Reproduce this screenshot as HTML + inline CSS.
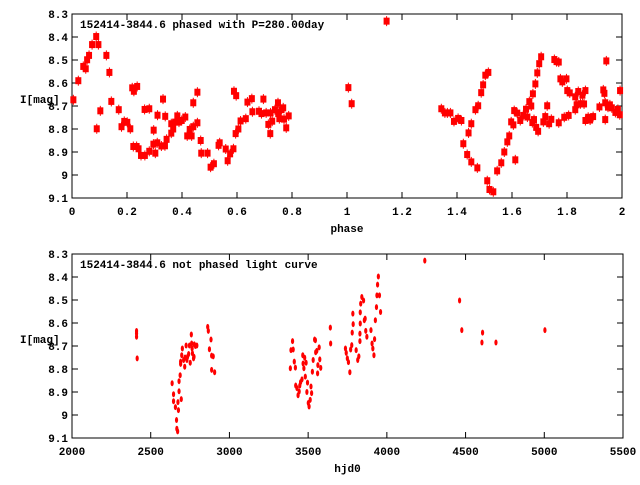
<!DOCTYPE html>
<html><head><meta charset="utf-8"><style>
body{margin:0;background:#fff}
svg text{font-family:"Liberation Mono","DejaVu Sans Mono",monospace;font-size:11px;font-weight:bold;fill:#000}
</style></head><body>
<svg id="c" width="640" height="480" xmlns="http://www.w3.org/2000/svg"></svg>
<script>
const phaseX=[0.005,0.023,0.041,0.050,0.055,0.062,0.073,0.088,0.096,0.090,0.103,0.125,0.136,0.143,0.170,0.180,0.190,0.201,0.212,0.219,0.225,0.223,0.235,0.237,0.242,0.251,0.265,0.264,0.281,0.281,0.297,0.296,0.303,0.31,0.311,0.325,0.331,0.338,0.339,0.344,0.361,0.361,0.368,0.375,0.383,0.389,0.399,0.412,0.419,0.428,0.435,0.441,0.441,0.456,0.456,0.468,0.47,0.493,0.504,0.516,0.533,0.537,0.559,0.566,0.575,0.587,0.589,0.597,0.595,0.605,0.613,0.632,0.638,0.654,0.656,0.68,0.689,0.696,0.706,0.714,0.721,0.722,0.728,0.738,0.749,0.75,0.754,0.762,0.768,0.771,0.779,0.788,1.005,1.017,1.144,
1.343,1.356,1.365,1.376,1.389,1.404,1.416,1.423,1.437,1.442,1.452,1.452,1.467,1.477,1.474,1.488,1.495,1.503,1.514,1.51,1.518,1.532,1.546,1.561,1.572,1.583,1.59,1.597,1.605,1.608,1.612,1.619,1.63,1.641,1.651,1.656,1.663,1.67,1.674,1.68,1.676,1.685,1.688,1.692,1.695,1.699,1.706,1.714,1.721,1.728,1.735,1.743,1.754,1.762,1.77,1.77,1.776,1.783,1.79,1.798,1.801,1.806,1.81,1.83,1.83,1.835,1.841,1.849,1.856,1.862,1.867,1.867,1.877,1.884,1.895,1.918,1.932,1.936,1.939,1.939,1.943,1.949,1.956,1.963,1.976,1.985,1.992,1.993];
const phaseMag=[8.673,8.59,8.528,8.538,8.499,8.48,8.433,8.398,8.433,8.799,8.721,8.48,8.554,8.680,8.716,8.790,8.767,8.771,8.799,8.621,8.636,8.876,8.876,8.615,8.886,8.915,8.915,8.715,8.712,8.897,8.805,8.866,8.905,8.86,8.74,8.874,8.67,8.873,8.745,8.845,8.818,8.777,8.8,8.77,8.743,8.77,8.763,8.748,8.83,8.802,8.83,8.79,8.686,8.64,8.773,8.85,8.905,8.905,8.966,8.951,8.871,8.86,8.887,8.938,8.908,8.886,8.636,8.655,8.82,8.80,8.765,8.755,8.683,8.668,8.725,8.723,8.733,8.67,8.73,8.78,8.82,8.73,8.766,8.716,8.686,8.733,8.755,8.716,8.708,8.757,8.795,8.743,8.62,8.69,8.331,
8.712,8.73,8.73,8.73,8.767,8.754,8.763,8.864,8.911,8.817,8.777,8.943,8.716,8.699,8.969,8.642,8.608,8.566,8.554,9.025,9.063,9.073,8.982,8.947,8.9,8.856,8.83,8.769,8.782,8.72,8.934,8.731,8.763,8.741,8.714,8.748,8.681,8.70,8.772,8.759,8.647,8.604,8.793,8.556,8.81,8.516,8.486,8.769,8.746,8.699,8.777,8.758,8.498,8.507,8.509,8.773,8.582,8.595,8.749,8.582,8.633,8.741,8.643,8.716,8.66,8.695,8.637,8.69,8.653,8.691,8.633,8.763,8.749,8.761,8.746,8.704,8.63,8.645,8.686,8.759,8.504,8.705,8.695,8.708,8.728,8.715,8.738,8.633];
const hjd=[2410,2410,2410,2414,2636,2645,2645,2657,2664,2666,2671,2673,2676,2680,2680,2687,2694,2690,2690,2697,2701,2709,2716,2718,2725,2730,2734,2741,2751,2758,2760,2765,2772,2777,2784,2793,2763,2746,2775,2862,2866,2873,2883,2887,2897,2887,2906,3387,3391,3401,3405,3412,3419,3421,3429,3436,3443,3447,3452,3461,3466,3468,3473,3478,3482,3487,3492,3496,3501,3506,3513,3518,3522,3527,3532,3541,3546,3548,3555,3560,3562,3570,3574,3580,3641,3643,3737,3742,3749,3756,3765,3770,3777,3780,3784,3786,3805,3815,3822,3829,3829,3831,3831,3834,3841,3852,3857,3862,3866,3873,3899,3906,3911,3918,3922,3927,3934,3937,3941,3946,3953,3960,4241,4462,4476,4604,4608,4693,5004];
const hjdMag=[8.635,8.645,8.66,8.754,8.862,8.91,8.94,8.966,9.022,9.06,9.071,8.944,8.979,8.897,8.853,8.827,8.931,8.778,8.768,8.74,8.711,8.761,8.79,8.75,8.698,8.761,8.747,8.735,8.773,8.65,8.689,8.732,8.754,8.693,8.7,8.698,8.711,8.698,8.747,8.617,8.634,8.714,8.672,8.742,8.745,8.804,8.814,8.797,8.718,8.679,8.715,8.768,8.794,8.872,8.883,8.914,8.898,8.872,8.857,8.845,8.74,8.776,8.797,8.751,8.833,8.773,8.9,8.859,8.948,8.963,8.934,8.876,8.905,8.812,8.761,8.672,8.675,8.727,8.721,8.819,8.783,8.706,8.758,8.795,8.62,8.689,8.711,8.73,8.754,8.77,8.814,8.715,8.696,8.642,8.559,8.605,8.718,8.761,8.745,8.679,8.646,8.602,8.554,8.516,8.487,8.502,8.588,8.581,8.634,8.66,8.631,8.689,8.711,8.74,8.67,8.588,8.531,8.48,8.433,8.398,8.48,8.552,8.329,8.502,8.631,8.685,8.642,8.685,8.631];
const yTicks=[8.3,8.4,8.5,8.6,8.7,8.8,8.9,9.0,9.1];
const yTickLabels=["8.3","8.4","8.5","8.6","8.7","8.8","8.9","9","9.1"];
const phaseTicks=[0,0.2,0.4,0.6,0.8,1,1.2,1.4,1.6,1.8,2];
const phaseTickLabels=["0","0.2","0.4","0.6","0.8","1","1.2","1.4","1.6","1.8","2"];
const hjdTicks=[2000,2500,3000,3500,4000,4500,5000,5500];
const hjdTickLabels=["2000","2500","3000","3500","4000","4500","5000","5500"];

const svg=document.getElementById('c');
const NS='http://www.w3.org/2000/svg';
function mk(tag,at,parent){const e=document.createElementNS(NS,tag);for(const k in at)e.setAttribute(k,at[k]);(parent||svg).appendChild(e);return e;}

function panel(o){
  const g=mk('g',{});
  
  
  const X=v=>o.x0+(v-o.xmin)/(o.xmax-o.xmin)*(o.x1-o.x0);
  const Y=v=>o.y0+(v-8.3)/0.8*(o.y1-o.y0);
  const fr=mk('rect',{x:o.x0,y:o.y0,width:o.x1-o.x0,height:o.y1-o.y0,fill:'none',stroke:'#000','stroke-width':1},g);
  
  
  yTicks.forEach((t,i)=>{const y=Y(t);
    mk('line',{x1:o.x0,x2:o.x0+6,y1:y,y2:y,stroke:'#000'},g);
    mk('line',{x1:o.x1,x2:o.x1-6,y1:y,y2:y,stroke:'#000'},g);
    const tx=mk('text',{x:o.x0-4,y:y+4,'text-anchor':'end'},g);tx.textContent=yTickLabels[i];
    
    });
  o.xt.forEach((t,i)=>{const x=X(t);
    mk('line',{x1:x,x2:x,y1:o.y1,y2:o.y1-6,stroke:'#000'},g);
    mk('line',{x1:x,x2:x,y1:o.y0,y2:o.y0+6,stroke:'#000'},g);
    const tx=mk('text',{x:x,y:o.y1+17,'text-anchor':'middle'},g);tx.textContent=o.xl[i];
    
    });
  const yl=mk('text',{x:20,y:(o.y0+o.y1)/2-3},g);yl.textContent='I[mag]';
  
  
  const xl=mk('text',{x:(o.x0+o.x1)/2,y:o.y1+34,'text-anchor':'middle'},g);xl.textContent=o.xlabel;
  
  
  const tt=mk('text',{x:o.x0+8,y:o.y0+14},g);tt.textContent=o.title;
  
  
  o.xs.forEach((v,i)=>{const x=X(v),y=Y(o.ys[i]);
    const p=mk('g',{},g);
    
    
    if(o.big){
      mk('line',{x1:x,x2:x,y1:y-5,y2:y+5,stroke:'#f00'},p);
      mk('rect',{x:x-3,y:y-3.5,width:6,height:7,fill:'#f00'},p);
    }else{
      mk('ellipse',{cx:x,cy:y,rx:1.6,ry:3,fill:'#f00'},p);
    }
  });
}
panel({name:'phased-plot',x0:72,x1:622,y0:14,y1:198,xmin:0,xmax:2,xt:phaseTicks,xl:phaseTickLabels,xlabel:'phase',title:'152414-3844.6 phased with P=280.00day',xs:phaseX,ys:phaseMag,big:true});
panel({name:'light-curve-plot',x0:72,x1:623,y0:254,y1:438,xmin:2000,xmax:5500,xt:hjdTicks,xl:hjdTickLabels,xlabel:'hjd0',title:'152414-3844.6 not phased light curve',xs:hjd,ys:hjdMag,big:false});
</script>
</body></html>
